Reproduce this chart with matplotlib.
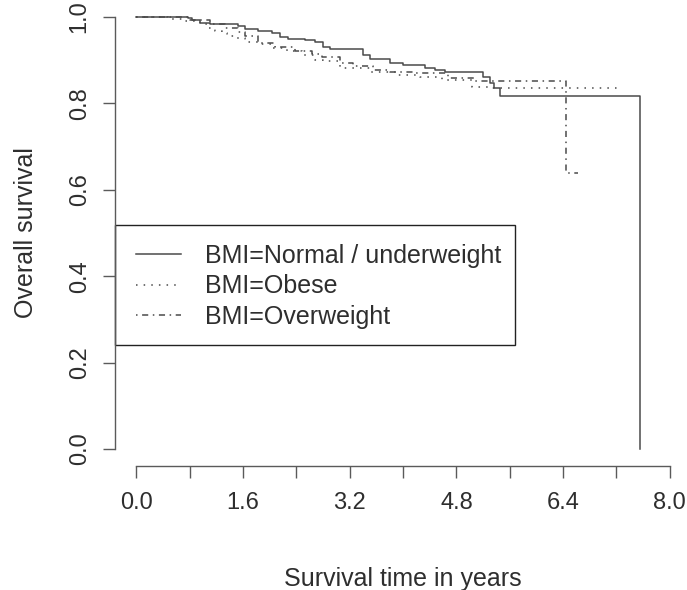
import numpy as np
import matplotlib
matplotlib.use("Agg")
import matplotlib.pyplot as plt
from matplotlib.patches import Rectangle

plt.rcParams['font.family'] = ['Liberation Sans', 'DejaVu Sans']

# Kaplan-Meier steps (time in years, survival)
t_normal = [0.0, 0.55, 0.77, 0.83, 0.95, 1.10, 1.52, 1.63, 1.82, 2.03, 2.15,
            2.27, 2.53, 2.68, 2.80, 2.90, 3.40, 3.50, 3.80, 4.00, 4.33, 4.48,
            4.63, 5.20, 5.30, 5.37, 5.45, 7.55]
s_normal = [1.0, 0.999, 0.997, 0.993, 0.987, 0.984, 0.978, 0.972, 0.968, 0.962,
            0.954, 0.949, 0.947, 0.941, 0.931, 0.925, 0.912, 0.902, 0.894, 0.889,
            0.883, 0.877, 0.873, 0.862, 0.847, 0.835, 0.816, 0.0]

t_obese = [0.0, 0.47, 0.70, 0.95, 1.07, 1.18, 1.28, 1.36, 1.48, 1.63, 1.82,
           2.03, 2.26, 2.48, 2.68, 2.80, 3.05, 3.50, 3.91, 4.25, 4.58, 5.03,
           5.27, 7.28]
s_obese = [1.0, 0.995, 0.991, 0.984, 0.974, 0.968, 0.962, 0.957, 0.951, 0.943,
           0.937, 0.929, 0.921, 0.912, 0.900, 0.897, 0.881, 0.873, 0.866, 0.862,
           0.854, 0.839, 0.836, 0.836]

t_over = [0.0, 0.80, 1.10, 1.33, 1.52, 1.63, 1.82, 2.08, 2.38, 2.63, 2.78,
          3.05, 3.25, 3.55, 3.80, 4.15, 4.67, 5.08, 6.44, 6.62]
s_over = [1.0, 0.993, 0.984, 0.975, 0.966, 0.957, 0.939, 0.931, 0.921, 0.914,
          0.908, 0.893, 0.887, 0.877, 0.873, 0.871, 0.858, 0.852, 0.639, 0.639]

labels = ['BMI=Normal / underweight', 'BMI=Obese', 'BMI=Overweight']

x_ticks = np.arange(0, 8.01, 0.8)
x_ticklabels = ['0.0', '', '1.6', '', '3.2', '', '4.8', '', '6.4', '', '8.0']
y_ticks = [0.0, 0.2, 0.4, 0.6, 0.8, 1.0]
y_ticklabels = ['0.0', '0.2', '0.4', '0.6', '0.8', '1.0']

line_col = '#4a4a4a'
axis_col = '#5a5a5a'
text_col = '#2e2e2e'

fig = plt.figure(figsize=(6.87, 5.90), dpi=100)
ax = fig.add_axes([0.1674, 0.2097, 0.8387, 0.7908])

ax.step(t_normal, s_normal, where='post', color=line_col, lw=1.1, label=labels[0])
ax.step(t_obese, s_obese, where='post', color=line_col, lw=1.1,
        dashes=(1, 4), label=labels[1])
ax.step(t_over, s_over, where='post', color=line_col, lw=1.1,
        dashes=(1, 3, 4, 3), label=labels[2])

ax.set_xlim(-0.32, 8.32)
ax.set_ylim(-0.04, 1.04)

for side in ['top', 'right']:
    ax.spines[side].set_visible(False)
ax.spines['left'].set_bounds(0, 1)
ax.spines['bottom'].set_bounds(0, 8)
for side in ['left', 'bottom']:
    ax.spines[side].set_color(axis_col)
    ax.spines[side].set_linewidth(1.0)

ax.set_xticks(x_ticks)
ax.set_xticklabels(x_ticklabels)
ax.set_yticks(y_ticks)
ax.set_yticklabels(y_ticklabels, rotation=90, va='center')
ax.tick_params(axis='both', length=8.5, width=1.0, color=axis_col,
               labelsize=17, labelcolor=text_col)
ax.tick_params(axis='x', pad=10)
ax.tick_params(axis='y', pad=9)

ax.set_xlabel('Survival time in years', fontsize=18, color=text_col, labelpad=38)
ax.set_ylabel('Overall survival', fontsize=18, color=text_col, labelpad=22)

# legend box (R style: drawn from the left plot edge)
ax.add_patch(Rectangle((-0.32, 0.240), 5.995, 0.279, fill=False,
                       edgecolor='#222222', lw=1.0, clip_on=False))
leg = ax.legend(loc='upper left', bbox_to_anchor=(0.0, 0.475),
                bbox_transform=ax.transData, borderaxespad=0, borderpad=0,
                frameon=False, fontsize=18, handlelength=1.8,
                handletextpad=0.95, labelspacing=0.26)
for txt in leg.get_texts():
    txt.set_color(text_col)

fig.savefig('out.png', dpi=100)
